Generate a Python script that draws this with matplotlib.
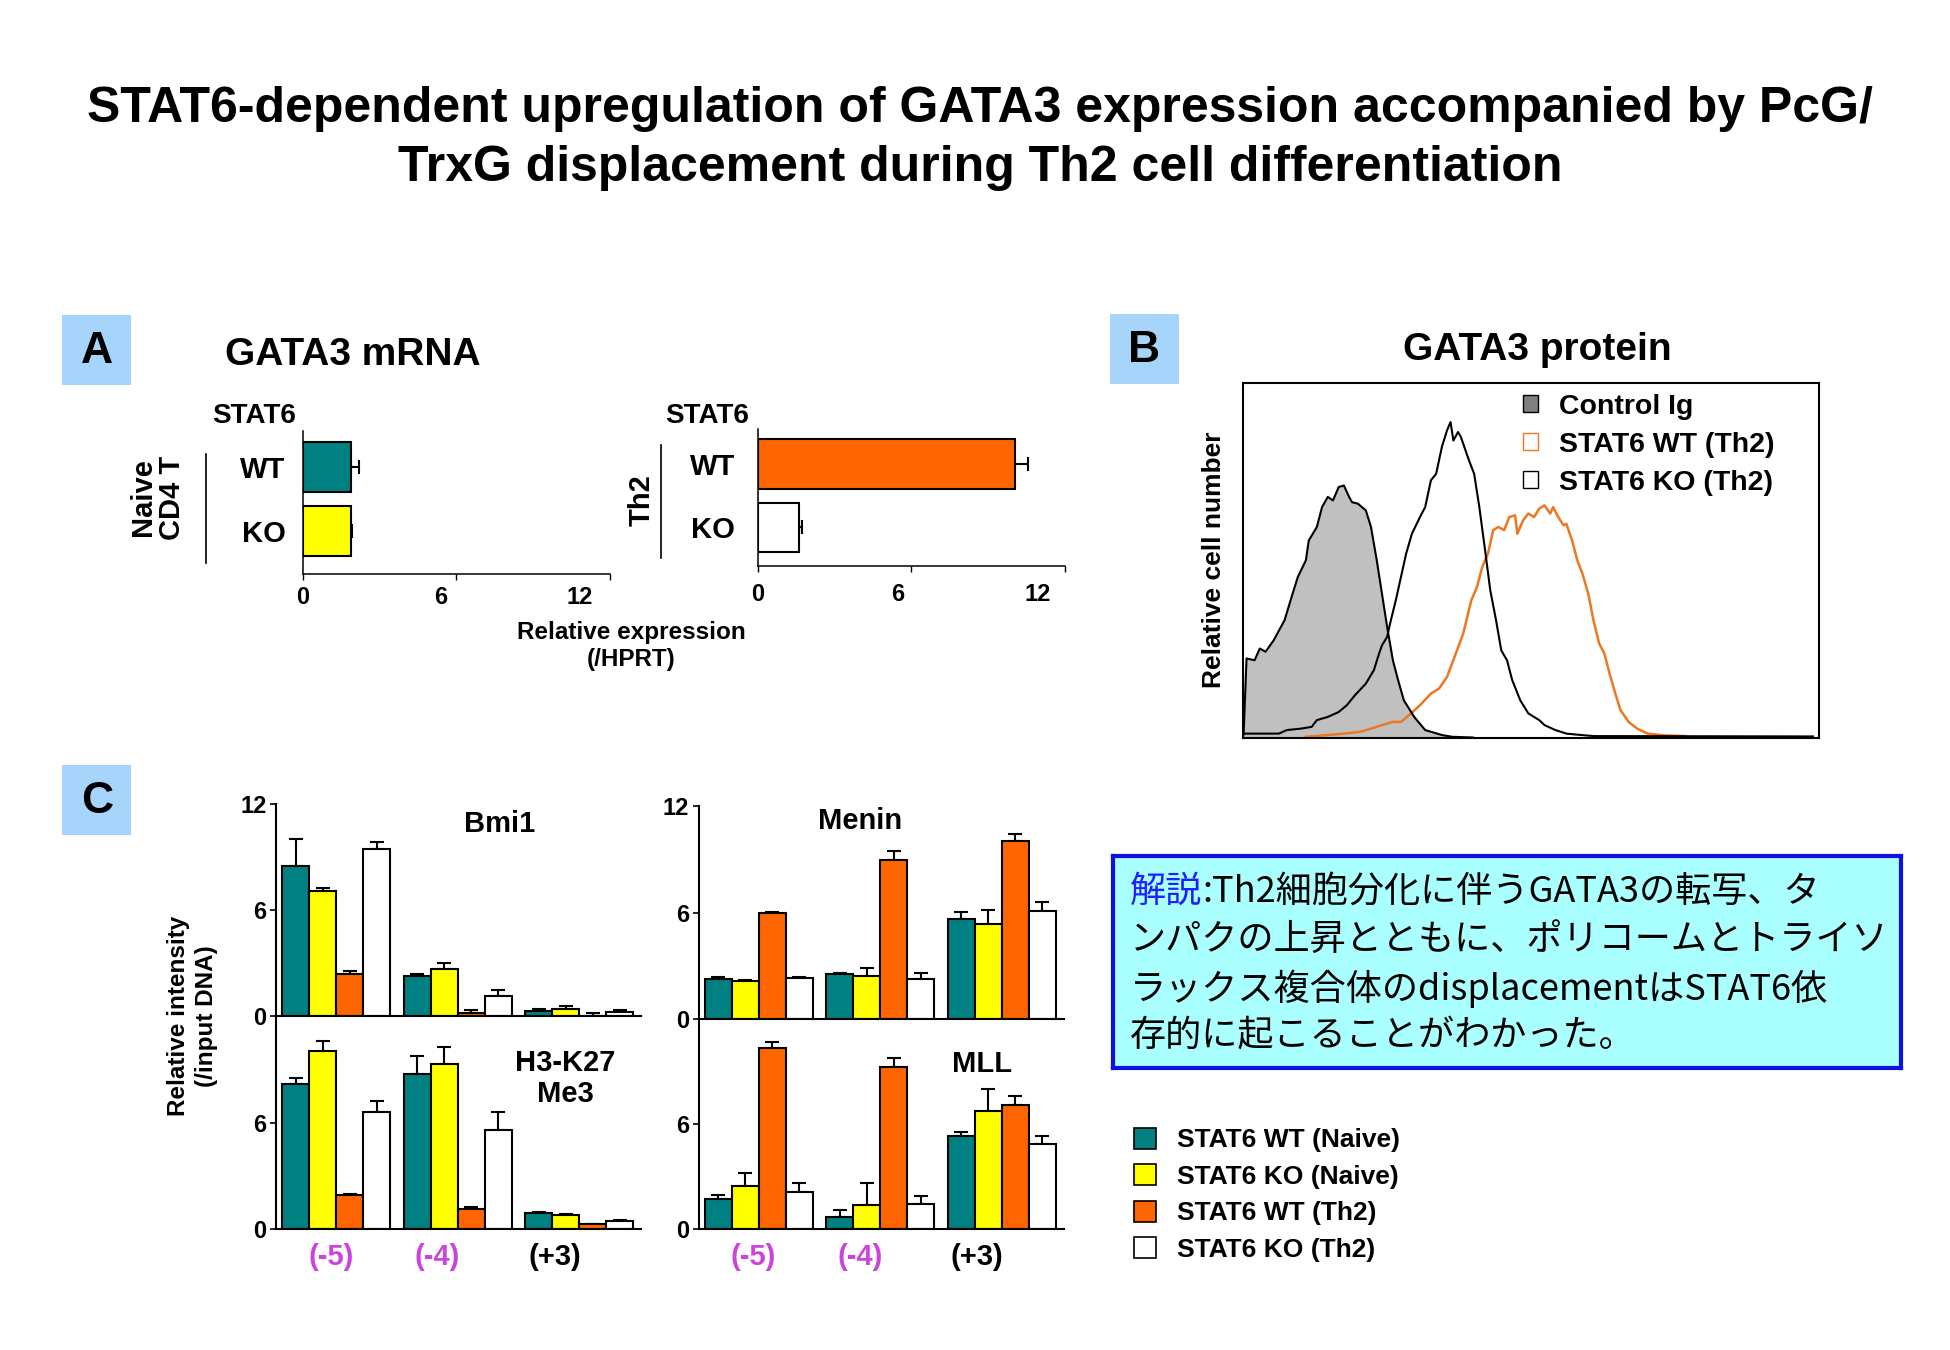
import numpy as np
import matplotlib
matplotlib.use('Agg')
import matplotlib.pyplot as plt
from matplotlib.patches import Rectangle, Patch
from matplotlib.lines import Line2D

plt.rcParams['font.family'] = ['Liberation Sans', 'DejaVu Sans']
plt.rcParams['font.weight'] = 'bold'

# layout grid: positions below are measured on a 1560 x 1080 grid
W, H = 1560.0, 1080.0

def fx(x):
    return x / W

def fy(y):
    return 1 - y / H

def box(l, t, r, b):
    return [l / W, 1 - b / H, (r - l) / W, (b - t) / H]

############################################################
# data
# A: GATA3 mRNA (relative expression /HPRT)
mrna_groups = ['WT', 'KO']
mrna_naive = [1.9, 1.9]
mrna_naive_err = [0.3, 0.05]
mrna_th2 = [10.05, 1.6]
mrna_th2_err = [0.5, 0.15]
mrna_ticks = [0, 6, 12]

# B: GATA3 protein histograms (x, y in % of plot box)
ctrl_x = [0.0, 0.2, 0.7, 2.1, 3.0, 4.0, 5.4, 7.3, 8.7, 9.6, 11.0, 11.5, 12.9, 13.8, 14.8,
          15.7, 16.7, 17.6, 18.5, 19.0, 20.0, 21.4, 22.3, 23.3, 24.2, 25.1, 26.1, 27.0,
          28.0, 29.8, 31.7, 34.6, 36.4, 40.0]
ctrl_y = [0.0, 1.1, 22.3, 21.8, 25.1, 24.2, 27.4, 33.1, 40.6, 45.3, 50.0, 55.6, 59.4, 65.0,
          67.9, 66.9, 70.7, 71.1, 67.9, 66.4, 66.0, 64.1, 59.4, 50.0, 40.6, 31.2, 21.8, 16.2,
          10.5, 5.8, 2.1, 0.7, 0.2, 0.0]
ko_x = [0.0, 0.2, 6.3, 7.7, 10.1, 12.0, 12.9, 14.8, 16.7, 18.1, 19.5, 21.4, 22.8, 23.7,
        24.2, 25.1, 25.6, 26.6, 27.5, 28.4, 29.4, 30.8, 31.7, 32.7, 33.6, 34.6, 35.5, 36.1,
        36.6, 37.4, 37.9, 39.3, 40.2, 41.1, 42.1, 43.0, 44.0, 44.9, 45.9, 46.8, 48.2, 49.6,
        51.5, 52.4, 54.3, 56.2, 58.1, 60.9, 99.0]
ko_y = [0.0, 1.1, 1.1, 2.1, 2.5, 3.0, 4.9, 5.8, 7.2, 9.1, 11.9, 15.2, 19.0, 23.7,
        26.0, 28.4, 32.1, 38.7, 45.3, 51.9, 57.5, 62.2, 65.0, 72.6, 74.4, 82.0, 86.7, 89.0,
        83.8, 86.2, 84.8, 78.2, 74.4, 65.0, 52.8, 41.5, 33.1, 24.6, 21.8, 16.2, 10.5, 6.8,
        4.9, 3.5, 2.1, 1.1, 0.8, 0.4, 0.3]
wt_x = [11.0, 14.8, 17.6, 20.4, 22.3, 24.2, 26.1, 27.5, 28.9, 30.8, 32.7, 34.1, 35.5, 36.9,
        38.3, 39.7, 40.7, 41.6, 42.6, 43.5, 44.4, 45.4, 46.3, 47.3, 47.7, 48.7, 49.6, 50.6,
        51.5, 52.4, 53.4, 53.9, 54.8, 55.7, 56.2, 57.2, 58.1, 59.0, 60.0, 60.9, 61.9, 62.8,
        63.7, 64.7, 65.6, 67.0, 68.5, 70.3, 73.2, 76.9]
wt_y = [0.2, 0.7, 1.1, 1.6, 2.5, 3.5, 4.4, 4.4, 6.3, 9.1, 12.4, 13.8, 17.1, 23.2,
        29.3, 38.7, 42.5, 48.1, 51.9, 58.5, 59.4, 58.5, 62.2, 62.7, 57.5, 61.3, 63.2, 62.2,
        64.6, 65.5, 63.2, 65.0, 62.2, 59.9, 60.3, 55.6, 50.0, 46.2, 40.6, 33.1, 26.5, 23.7,
        18.0, 12.4, 7.7, 4.4, 2.5, 1.1, 0.6, 0.4]

# C: ChIP, rows = sites, columns = series
sites = ['(-5)', '(-4)', '(+3)']
series = ['STAT6 WT (Naive)', 'STAT6 KO (Naive)', 'STAT6 WT (Th2)', 'STAT6 KO (Th2)']
bmi1 = [[8.5, 7.05, 2.41, 9.44], [2.26, 2.67, 0.19, 1.17], [0.32, 0.43, 0.03, 0.24]]
bmi1_err = [[1.5, 0.2, 0.13, 0.38], [0.13, 0.33, 0.19, 0.33], [0.08, 0.13, 0.17, 0.13]]
k27me3 = [[8.17, 10.06, 1.91, 6.57], [8.74, 9.3, 1.09, 5.57], [0.91, 0.77, 0.25, 0.43]]
k27me3_err = [[0.34, 0.57, 0.03, 0.62], [1.0, 0.94, 0.13, 1.0], [0.03, 0.06, 0.02, 0.06]]
menin = [[2.24, 2.15, 5.99, 2.32], [2.53, 2.41, 8.99, 2.22], [5.65, 5.36, 10.06, 6.08]]
menin_err = [[0.14, 0.04, 0.04, 0.02], [0.04, 0.44, 0.51, 0.35], [0.4, 0.76, 0.4, 0.54]]
mll = [[1.72, 2.45, 10.34, 2.08], [0.68, 1.34, 9.26, 1.43], [5.28, 6.72, 7.08, 4.83]]
mll_err = [[0.22, 0.72, 0.32, 0.52], [0.38, 1.26, 0.51, 0.42], [0.25, 1.26, 0.52, 0.45]]

teal = '#008080'
yellow = '#ffff00'
orange = '#ff6600'
series_colors = [teal, yellow, orange, 'white']
site_colors = ['#cc44dd', '#cc44dd', 'black']

############################################################
fig = plt.figure(figsize=(19.5, 13.5), dpi=100)

fig.text(fx(784), fy(111), 'STAT6-dependent upregulation of GATA3 expression accompanied by PcG/\n'
         'TrxG displacement during Th2 cell differentiation',
         ha='center', va='center', fontsize=36, linespacing=1.36)

# panel letters
for letter, (l, t) in zip('ABC', [(50, 252), (888, 251), (50, 612)]):
    fig.patches.append(Rectangle((fx(l), fy(t + 56)), 55 / W, 56 / H, transform=fig.transFigure,
                                 facecolor='#a6d4fa', edgecolor='none'))
    fig.text(fx(l + 27.5), fy(t + 29), letter, ha='center', va='center', fontsize=32)

############################################################
# A
fig.text(fx(282), fy(284), 'GATA3 mRNA', ha='center', va='center', fontsize=28)

def mrna_panel(rect, vals, errs, colors, ylim, pad, lab_pad, lab_shift):
    ax = fig.add_axes(rect)
    y = np.array([1, 0])
    ax.barh(y, vals, height=0.78, color=colors, edgecolor='black', lw=1.5, zorder=2)
    ax.errorbar(vals, y, xerr=[np.zeros(2), errs], fmt='none', ecolor='black',
                elinewidth=1.5, capsize=5, capthick=1.5, zorder=1)
    ax.set_xlim(0, 12)
    ax.set_ylim(*ylim)
    # tick marks at the values, labels sit a little left of them as in the original
    ax.xaxis.remove_overlapping_locs = False
    ax.set_xticks(mrna_ticks, [])
    ax.set_xticks(np.array(mrna_ticks) * lab_shift, [str(t) for t in mrna_ticks], minor=True)
    ax.set_yticks(y, mrna_groups)
    ax.tick_params(axis='x', which='major', length=4, width=1)
    ax.tick_params(axis='x', which='minor', labelsize=17, length=0, pad=lab_pad + 4)
    ax.tick_params(axis='y', labelsize=21, length=0, pad=pad)
    ax.spines[['top', 'right']].set_visible(False)
    ax.spines[['left', 'bottom']].set_linewidth(1.1)
    ax.patch.set_alpha(0)
    return ax

mrna_panel(box(242, 345, 488, 459), mrna_naive, mrna_naive_err, [teal, yellow],
           (-0.67, 1.55), 12, 5, 0.9)
mrna_panel(box(606, 343, 852, 453), mrna_th2, mrna_th2_err, [orange, 'white'],
           (-0.61, 1.55), 16, 8, 0.91)

fig.text(fx(203), fy(333), 'STAT6', ha='center', va='center', fontsize=20)
fig.text(fx(566), fy(333), 'STAT6', ha='center', va='center', fontsize=20)
fig.add_artist(Line2D([fx(165), fx(165)], [fy(363), fy(450)], color='black', lw=1.2))
fig.add_artist(Line2D([fx(529), fx(529)], [fy(356), fy(446)], color='black', lw=1.2))
fig.text(fx(126), fy(398), 'Naive\nCD4 T', ha='center', va='center', rotation=90,
         fontsize=21, linespacing=1.05)
fig.text(fx(513), fy(400), 'Th2', ha='center', va='center', rotation=90, fontsize=21)
fig.text(fx(505), fy(517), 'Relative expression\n(/HPRT)', ha='center', va='center',
         fontsize=17.5, linespacing=1.25)

############################################################
# B
fig.text(fx(1230), fy(280), 'GATA3 protein', ha='center', va='center', fontsize=28)
axb = fig.add_axes(box(994, 306.5, 1455, 590))
axb.fill_between(ctrl_x, ctrl_y, color='#c0c0c0', lw=0, zorder=1)
axb.plot(ctrl_x, ctrl_y, color='black', lw=1.5, zorder=3)
axb.plot(ko_x, ko_y, color='black', lw=1.5, zorder=3)
axb.plot(wt_x, wt_y, color='#ee7722', lw=1.8, zorder=2)
axb.set_xlim(0, 100)
axb.set_ylim(0, 100)
axb.set_xticks([])
axb.set_yticks([])
for s in axb.spines.values():
    s.set_linewidth(1.5)
b_handles = [Patch(facecolor='#808080', edgecolor='black', lw=1),
             Patch(facecolor='white', edgecolor='#ee7722', lw=1),
             Patch(facecolor='white', edgecolor='black', lw=1)]
axb.legend(b_handles, ['Control Ig', 'STAT6 WT (Th2)', 'STAT6 KO (Th2)'],
           loc='upper left', bbox_to_anchor=(fx(1218), fy(315)), bbox_transform=fig.transFigure,
           frameon=False, borderpad=0, borderaxespad=0, handlelength=0.55, handleheight=0.55,
           handletextpad=0.72, labelspacing=0.42, prop={'weight': 'bold', 'size': 20.5})
fig.text(fx(971), fy(448), 'Relative cell number', ha='center', va='center', rotation=90,
         fontsize=19)

############################################################
# C
def chip_panel(rect, vals, errs, yt, title, tx, ty, xlabels):
    ax = fig.add_axes(rect)
    vals = np.array(vals)
    errs = np.array(errs)
    for i in range(4):
        x = np.arange(3) * 4.5 + i + 0.5
        ax.bar(x, vals[:, i], 1.0, color=series_colors[i], edgecolor='black', lw=1.5, zorder=2)
        ax.errorbar(x, vals[:, i], yerr=[np.zeros(3), errs[:, i]], fmt='none', ecolor='black',
                    elinewidth=1.5, capsize=5, capthick=1.5, zorder=1)
    ax.set_xlim(-0.22, 13.3)
    ax.set_ylim(0, 12)
    ax.set_yticks(yt)
    ax.tick_params(axis='y', labelsize=17, length=4, width=1.2, pad=3)
    if xlabels:
        ax.set_xticks(np.arange(3) * 4.5 + np.array([1.8, 1.25, 1.1]), sites)
        ax.tick_params(axis='x', labelsize=21, length=0, pad=10)
        for lab, c in zip(ax.get_xticklabels(), site_colors):
            lab.set_color(c)
    else:
        ax.set_xticks([])
    ax.spines[['top', 'right']].set_visible(False)
    ax.spines[['left', 'bottom']].set_linewidth(1.5)
    ax.patch.set_alpha(0)
    ax.text(tx, ty, title, transform=ax.transAxes, ha='center', va='center', fontsize=21,
            linespacing=1.15)
    return ax

chip_panel(box(221, 643, 513, 813), bmi1, bmi1_err, [0, 6, 12], 'Bmi1', 0.613, 0.906, False)
chip_panel(box(221, 813, 513, 983), k27me3, k27me3_err, [0, 6], 'H3-K27\nMe3', 0.791, 0.706, True)
chip_panel(box(559, 645, 851, 815), menin, menin_err, [0, 6, 12], 'Menin', 0.442, 0.929, False)
chip_panel(box(559, 815, 851, 983), mll, mll_err, [0, 6], 'MLL', 0.777, 0.786, True)

fig.text(fx(154), fy(813), 'Relative intensity\n(/input DNA)', ha='center', va='center',
         rotation=90, fontsize=17.5, linespacing=1.25)

c_handles = [Patch(facecolor=c, edgecolor='black', lw=1.2) for c in series_colors]
fig.legend(c_handles, series, loc='upper left', bbox_to_anchor=(fx(907), fy(902)),
           frameon=False, borderpad=0, borderaxespad=0, handlelength=0.85, handleheight=0.85,
           handletextpad=0.8, labelspacing=0.45, prop={'weight': 'bold', 'size': 19})

############################################################
# note box
axn = fig.add_axes(box(890, 684.5, 1521, 854.5))
axn.set_facecolor('#aaffff')
axn.set_xticks([])
axn.set_yticks([])
for s in axn.spines.values():
    s.set_color('#1010e0')
    s.set_linewidth(3)
jp = ['Noto Sans CJK JP', 'DejaVu Sans']
note_lines = [':Th2細胞分化に伴うGATA3の転写、タ',
              'ンパクの上昇とともに、ポリコームとトライソ',
              'ラックス複合体のdisplacementはSTAT6依',
              '存的に起こることがわかった。']
line_y = [0.830, 0.602, 0.374, 0.152]
note_size = 26
head = axn.text(0.022, line_y[0], '解説', transform=axn.transAxes, ha='left', va='center',
                fontsize=note_size, family=jp, weight='normal', color='#2020ff')
axn.annotate(note_lines[0], xy=(1, 0), xycoords=head, ha='left', va='bottom',
             fontsize=note_size, family=jp, weight='normal', color='black')
for txt, yy in zip(note_lines[1:], line_y[1:]):
    axn.text(0.022, yy, txt, transform=axn.transAxes, ha='left', va='center',
             fontsize=note_size, family=jp, weight='normal', color='black')

fig.savefig('out.png', dpi=100)
